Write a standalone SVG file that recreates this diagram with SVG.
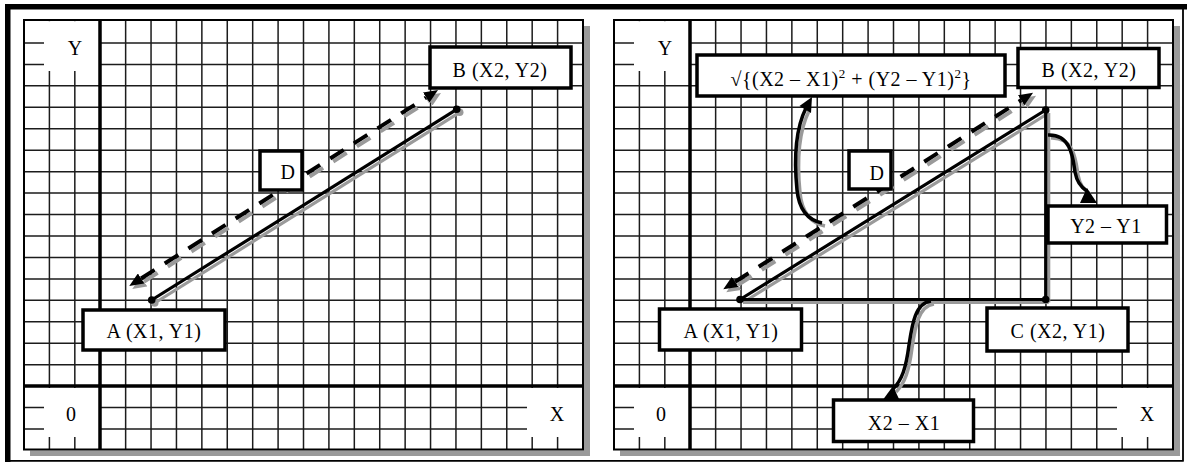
<svg xmlns="http://www.w3.org/2000/svg" xmlns:xlink="http://www.w3.org/1999/xlink" width="1187" height="463" viewBox="0 0 1187 463">
<style>
.grid{fill:none;stroke:#1c1c1c;stroke-width:1.5}
.axis{fill:none;stroke:#000;stroke-width:3.5}
.border{fill:none;stroke:#000;stroke-width:2}
.shade{fill:#9a9a9a}
.line{fill:none;stroke:#000;stroke-width:3.2}
.lineS{fill:none;stroke:#9a9a9a;stroke-width:3.2}
.dash{fill:none;stroke:#000;stroke-width:4;stroke-dasharray:16 12}
.dashS{fill:none;stroke:#9a9a9a;stroke-width:4;stroke-dasharray:16 12}
.curve{fill:none;stroke:#000;stroke-width:3.5}
.curveS{fill:none;stroke:#9a9a9a;stroke-width:3.5}
.box{fill:#fff;stroke:#000;stroke-width:3.5}
.lbl{font-family:"Liberation Serif","Times New Roman",serif;font-size:20px;fill:#000;text-anchor:middle;letter-spacing:0.5px}
.ax{font-family:"Liberation Serif","Times New Roman",serif;font-size:20px;fill:#000;text-anchor:middle}
</style>
<defs>
<marker id="ah" viewBox="0 0 14 12" refX="0" refY="6" markerWidth="14" markerHeight="12" markerUnits="userSpaceOnUse" orient="auto-start-reverse"><path d="M0,0 L14,6 L0,12 z" fill="#000"/></marker>
<marker id="ahS" viewBox="0 0 14 12" refX="0" refY="6" markerWidth="14" markerHeight="12" markerUnits="userSpaceOnUse" orient="auto-start-reverse"><path d="M0,0 L14,6 L0,12 z" fill="#9a9a9a"/></marker>
<g id="panel">
<rect class="shade" x="584" y="26" width="6" height="430"/>
<rect class="shade" x="30" y="450.5" width="560" height="5.5"/>
<rect x="24" y="20" width="559" height="429.5" fill="#fff"/>
<path class="grid" d="M49.41 20V449.5M74.82 20V449.5M125.64 20V449.5M151.05 20V449.5M176.45 20V449.5M201.86 20V449.5M227.27 20V449.5M252.68 20V449.5M278.09 20V449.5M303.5 20V449.5M328.91 20V449.5M354.32 20V449.5M379.73 20V449.5M405.14 20V449.5M430.55 20V449.5M455.95 20V449.5M481.36 20V449.5M506.77 20V449.5M532.18 20V449.5M557.59 20V449.5"/>
<path class="grid" d="M24 42.95H583M24 64.4H583M24 85.85H583M24 107.3H583M24 128.75H583M24 150.2H583M24 171.65H583M24 193.1H583M24 214.55H583M24 236H583M24 257.45H583M24 278.9H583M24 300.35H583M24 321.8H583M24 343.25H583M24 364.7H583M24 407.6H583M24 429.05H583"/>
<rect x="44" y="21.2" width="56" height="49.8" fill="#fff"/>
<rect x="44" y="388" width="56" height="49" fill="#fff"/>
<rect x="527" y="388" width="55" height="49" fill="#fff"/>
<path class="axis" d="M100 20V449.5M24 386H583"/>
<rect class="border" x="24" y="20" width="559" height="429.5"/>
</g>
</defs>
<rect width="1187" height="463" fill="#fff"/>
<g id="frame">
<rect x="5" y="4" width="1182" height="5.5" fill="#000"/>
<rect x="5" y="4" width="5.5" height="458" fill="#000"/>
<path d="M5 460.8H1183.5M1183 9V461.5" fill="none" stroke="#000" stroke-width="1.8"/>
</g>
<g id="panel-left"><use xlink:href="#panel" href="#panel"/></g>
<g id="panel-right"><use xlink:href="#panel" href="#panel" x="590"/></g>
<g id="axis-labels">
<text class="ax" x="75" y="55">Y</text>
<text class="ax" x="71" y="421">0</text>
<text class="ax" x="557" y="421">X</text>
<text class="ax" x="665" y="55">Y</text>
<text class="ax" x="661" y="421">0</text>
<text class="ax" x="1147" y="421">X</text>
</g>
<g id="connectors">
<!-- shadows -->
<path class="lineS" d="M154.7,303 L459.7,112.3"/>
<path class="dashS" d="M144.1,281.5 L429.2,100.5" marker-start="url(#ahS)" marker-end="url(#ahS)"/>
<circle cx="154.7" cy="303" r="3.8" fill="#9a9a9a"/>
<circle cx="459.7" cy="112.3" r="3.8" fill="#9a9a9a"/>
<path class="lineS" d="M743,302.5 L1048.7,113"/>
<path class="lineS" d="M743,302.5 H1048.7"/>
<path class="lineS" d="M1048.7,113 V302.5"/>
<path class="dashS" d="M738.1,284.8 L1024.2,103.2" marker-start="url(#ahS)" marker-end="url(#ahS)"/>
<path class="curveS" d="M825,226 C811,223 802,213 800,193 C797,163 798,133 809,111"/>
<path class="curveS" d="M1051,138 C1075,137 1076,163 1078,175 C1080,186 1085,191 1090,194"/>
<path class="curveS" d="M934,304 C918,306 915,328 912,348 C909,371 905,383 896,392"/>
<!-- left panel -->
<path id="ab-left" class="line" d="M151.7,300 L456.7,109.3"/>
<path id="d-left" class="dash" d="M141.1,278.5 L426.2,97.5" marker-start="url(#ah)" marker-end="url(#ah)"/>
<circle cx="151.7" cy="300" r="3.8" fill="#000"/>
<circle cx="456.7" cy="109.3" r="3.8" fill="#000"/>
<!-- right panel -->
<path id="ab-right" class="line" d="M740,299.5 L1045.7,110"/>
<path id="ac-right" class="line" d="M740,299.5 H1045.7"/>
<path id="bc-right" class="line" d="M1045.7,110 V299.5"/>
<path id="d-right" class="dash" d="M735.1,281.8 L1021.2,100.2" marker-start="url(#ah)" marker-end="url(#ah)"/>
<circle cx="740" cy="299.5" r="3.8" fill="#000"/>
<circle cx="1045.7" cy="110" r="3.8" fill="#000"/>
<circle cx="1045.7" cy="299.5" r="3.8" fill="#000"/>
<path id="to-formula" class="curve" d="M822,223 C808,220 799,210 797,190 C794,160 795,130 806,108"/>
<polygon points="812,97 799.5,106 811,113" fill="#000"/>
<path id="to-dy" class="curve" d="M1048,135 C1072,134 1073,160 1075,172 C1077,183 1082,188 1087,191"/>
<polygon points="1087,188 1080,203 1097,203" fill="#000"/>
<path id="to-dx" class="curve" d="M931,301 C915,303 912,325 909,345 C906,368 902,380 893,389"/>
<polygon points="893,386 883.5,399 899,399" fill="#000"/>
</g>
<g id="node-A-left"><rect class="box" x="83" y="310" width="142" height="40"/><text class="lbl" x="154" y="338">A (X1, Y1)</text></g>
<g id="node-B-left"><rect class="box" x="430" y="47" width="141" height="41"/><text class="lbl" x="500" y="77">B (X2, Y2)</text></g>
<g id="node-D-left"><rect class="box" x="260" y="151" width="42" height="39"/><text class="lbl" x="288" y="179">D</text></g>
<g id="node-formula"><rect class="box" x="697" y="55" width="308" height="41"/><text class="lbl" x="851" y="86">√{(X2 – X1)<tspan font-size="13" dy="-8">2</tspan><tspan dy="8"> + (Y2 – Y1)</tspan><tspan font-size="13" dy="-8">2</tspan><tspan dy="8">}</tspan></text></g>
<g id="node-B-right"><rect class="box" x="1018" y="48.5" width="141" height="39"/><text class="lbl" x="1089" y="77">B (X2, Y2)</text></g>
<g id="node-D-right"><rect class="box" x="849" y="151" width="42" height="38"/><text class="lbl" x="877" y="180">D</text></g>
<g id="node-dy"><rect class="box" x="1048" y="206" width="118.5" height="37"/><text class="lbl" x="1106" y="233">Y2 – Y1</text></g>
<g id="node-A-right"><rect class="box" x="659.5" y="309" width="142" height="41"/><text class="lbl" x="731" y="338">A (X1, Y1)</text></g>
<g id="node-C"><rect class="box" x="987" y="308" width="141" height="43"/><text class="lbl" x="1058" y="338">C (X2, Y1)</text></g>
<g id="node-dx"><rect class="box" x="833.5" y="400" width="140" height="41.5"/><text class="lbl" x="904" y="430">X2 – X1</text></g>
</svg>
